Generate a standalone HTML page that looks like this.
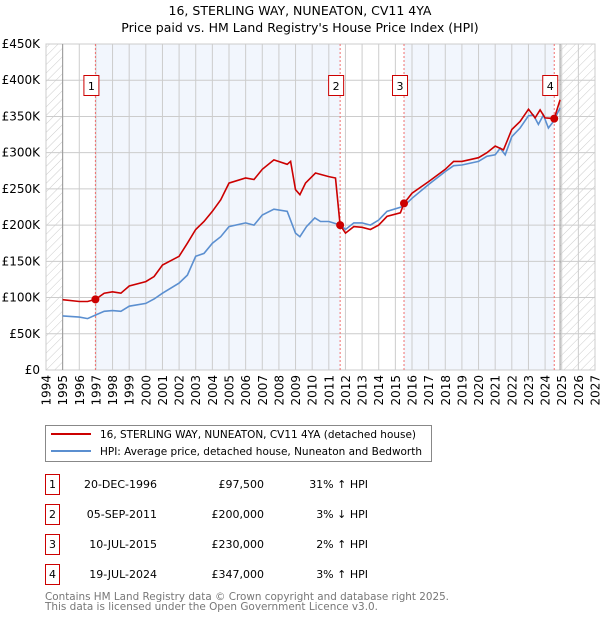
<!DOCTYPE html>
<html><head><meta charset="utf-8"><style>
body{margin:0;background:#fff;font-family:"DejaVu Sans","Liberation Sans",sans-serif;}
#wrap{position:relative;width:600px;height:620px;overflow:hidden}
svg text{font-family:"DejaVu Sans","Liberation Sans",sans-serif;}
</style></head><body><div id="wrap">
<svg id="s" width="600" height="620" xmlns="http://www.w3.org/2000/svg">
<defs><pattern id="hatch" width="6" height="6" patternUnits="userSpaceOnUse" patternTransform="rotate(45)"><line x1="0" y1="0" x2="0" y2="6" stroke="#ccc" stroke-width="1"/></pattern></defs>
<text x="300" y="15" text-anchor="middle" font-size="12.5">16, STERLING WAY, NUNEATON, CV11 4YA</text>
<text x="300" y="32" text-anchor="middle" font-size="12.5">Price paid vs. HM Land Registry's House Price Index (HPI)</text>
<g id="plot"></g>
<g>
<rect x="45.5" y="425.5" width="386" height="36" fill="#fff" stroke="#888"/>
<line x1="51" y1="434" x2="91" y2="434" stroke="#cc0000" stroke-width="2"/>
<text x="100" y="438" font-size="10.5" textLength="316" lengthAdjust="spacingAndGlyphs">16, STERLING WAY, NUNEATON, CV11 4YA (detached house)</text>
<line x1="51" y1="451" x2="91" y2="451" stroke="#5b8fd0" stroke-width="2"/>
<text x="100" y="455" font-size="10.5" textLength="322" lengthAdjust="spacingAndGlyphs">HPI: Average price, detached house, Nuneaton and Bedworth</text>
</g>
<g id="table" font-size="11"></g>
<text x="45" y="600" font-size="10.5" fill="#777" textLength="404" lengthAdjust="spacingAndGlyphs">Contains HM Land Registry data © Crown copyright and database right 2025.</text>
<text x="45" y="610" font-size="10.5" fill="#777" textLength="333" lengthAdjust="spacingAndGlyphs">This data is licensed under the Open Government Licence v3.0.</text>
</svg></div>
<script>
const hpiYears=[1995,1996,1996.5,1997,1997.5,1998,1998.5,1999,2000,2000.5,2001,2002,2002.5,2003,2003.5,2004,2004.5,2005,2006,2006.5,2007,2007.7,2008.5,2009,2009.26,2009.66,2010.16,2010.5,2011,2011.7,2012,2012.5,2013,2013.5,2014,2014.5,2015.5,2016,2017,2018,2018.5,2019,2020,2020.5,2021,2021.3,2021.6,2022,2022.5,2023,2023.3,2023.6,2023.9,2024.2,2024.5,2024.9];
const hpiValues=[74.7,73,71,76,81,82,81,88,92,98,106,120,131,157,161,175,184,198,203,200,214,222,219,189,184,198,210,205,205,200,194,203,203,200,207,219,226,237,256,274,282,283,288,295,297,306,297,322,334,351,352,339,352,334,343,362];
const propYears=[1995,1996,1996.5,1996.97,1997.5,1998,1998.5,1999,2000,2000.5,2001,2002,2002.5,2003,2003.5,2004,2004.5,2005,2006,2006.5,2007,2007.7,2008.5,2008.7,2009,2009.26,2009.6,2010.2,2010.5,2011,2011.4,2011.68,2012,2012.5,2013,2013.5,2014,2014.5,2015.3,2015.52,2016,2017,2018,2018.5,2019,2020,2020.5,2021,2021.5,2022,2022.5,2023,2023.4,2023.7,2024,2024.55,2024.9];
const propValues=[97,94.5,94.5,97.5,106,108,106,116,122,129,145,157,175,194,205,219,235,258,265,263,277,290,284,288,249,242,258,272,270,267,265,200,189,198,197,194,200,212,217,230,244,260,277,288,288,293,300,309,304,332,343,360,348,359,348,347,373];
const saleIds=["1","2","3","4"];
const saleYears=[1996.97,2011.68,2015.52,2024.55];
const saleValues=[97.5,200,230,347];
const saleDates=["20-DEC-1996","05-SEP-2011","10-JUL-2015","19-JUL-2024"];
const salePrices=["£97,500","£200,000","£230,000","£347,000"];
const saleDiffs=["31% ↑ HPI","3% ↓ HPI","2% ↑ HPI","3% ↑ HPI"];
const yTicks=[0,50,100,150,200,250,300,350,400,450];
const yTickLabels=["£0","£50K","£100K","£150K","£200K","£250K","£300K","£350K","£400K","£450K"];
const xTicks=[1994,1995,1996,1997,1998,1999,2000,2001,2002,2003,2004,2005,2006,2007,2008,2009,2010,2011,2012,2013,2014,2015,2016,2017,2018,2019,2020,2021,2022,2023,2024,2025,2026,2027];

const X0=46,X1=595,Y0=370,Y1=44;
const xs=y=>X0+(y-1994)/33*(X1-X0);
const ys=v=>Y0-v/450*(Y0-Y1);
const NS="http://www.w3.org/2000/svg";
function mk(parent,tag,attrs){const e=document.createElementNS(NS,tag);for(const k in attrs)e.setAttribute(k,attrs[k]);parent.appendChild(e);return e;}
const plot=document.getElementById('plot');
const dataEnd=2024.9;
const bands=[[1995,saleYears[0],'#fff'],[saleYears[0],saleYears[1],'#f2f6fd'],[saleYears[1],saleYears[2],'#fff'],[saleYears[2],saleYears[3],'#f2f6fd'],[saleYears[3],dataEnd,'#fff']];
bands.forEach(b=>{const r=mk(plot,'rect',{x:xs(b[0]),y:Y1,width:xs(b[1])-xs(b[0]),height:Y0-Y1,fill:b[2]});

});
const h1=mk(plot,'rect',{x:X0,y:Y1,width:xs(1995)-X0,height:Y0-Y1,fill:'url(#hatch)'});


const h2=mk(plot,'rect',{x:xs(dataEnd),y:Y1,width:X1-xs(dataEnd),height:Y0-Y1,fill:'url(#hatch)'});


yTicks.forEach((t,i)=>{mk(plot,'line',{x1:X0,x2:X1,y1:ys(t),y2:ys(t),stroke:'#ccc','stroke-width':1});
const tx=mk(plot,'text',{x:40,y:ys(t)+4,'text-anchor':'end','font-size':12});tx.textContent=yTickLabels[i];

});
xTicks.forEach(t=>{mk(plot,'line',{x1:xs(t),x2:xs(t),y1:Y1,y2:Y0,stroke:'#ccc','stroke-width':1});
const tx=mk(plot,'text',{x:0,y:0,'text-anchor':'end','font-size':12,transform:`translate(${xs(t)+4.5},375) rotate(-90)`});tx.textContent=t;

});
mk(plot,'rect',{x:X0,y:Y1,width:X1-X0,height:Y0-Y1,fill:'none',stroke:'#ccc'});
mk(plot,'line',{x1:xs(1995),x2:xs(1995),y1:Y1,y2:Y0,stroke:'#999'});
mk(plot,'line',{x1:xs(dataEnd),x2:xs(dataEnd),y1:Y1,y2:Y0,stroke:'#999'});
saleYears.forEach(y=>{mk(plot,'line',{x1:xs(y),x2:xs(y),y1:Y1,y2:Y0,stroke:'#f07070','stroke-dasharray':'2,2'});});
function pts(a,b){return a.map((y,i)=>xs(y).toFixed(1)+','+ys(b[i]).toFixed(1)).join(' ');}
const hl=mk(plot,'polyline',{points:pts(hpiYears,hpiValues),fill:'none',stroke:'#5b8fd0','stroke-width':1.6});


const pl=mk(plot,'polyline',{points:pts(propYears,propValues),fill:'none',stroke:'#cc0000','stroke-width':1.6});


saleYears.forEach((y,i)=>{
const c=mk(plot,'circle',{cx:xs(y),cy:ys(saleValues[i]),r:4,fill:'#cc0000'});


const g=mk(plot,'g',{});


mk(g,'rect',{x:xs(y)-11.5,y:75.5,width:15,height:20,fill:'#fff',stroke:'#cc0000'});
const t=mk(g,'text',{x:xs(y)-4,y:90,'text-anchor':'middle','font-size':11});t.textContent=saleIds[i];});
const tb=document.getElementById('table');
saleIds.forEach((id,i)=>{const yy=487+i*30;
const g=mk(tb,'g',{});


mk(g,'rect',{x:45.5,y:yy-12.5,width:14,height:20,fill:'#fff',stroke:'#cc0000'});
let t=mk(g,'text',{x:52.5,y:yy+1,'text-anchor':'middle'});t.textContent=id;
t=mk(g,'text',{x:157,y:yy+1,'text-anchor':'end'});t.textContent=saleDates[i];
t=mk(g,'text',{x:264,y:yy+1,'text-anchor':'end'});t.textContent=salePrices[i];
t=mk(g,'text',{x:368,y:yy+1,'text-anchor':'end'});t.textContent=saleDiffs[i];});
</script></body></html>
